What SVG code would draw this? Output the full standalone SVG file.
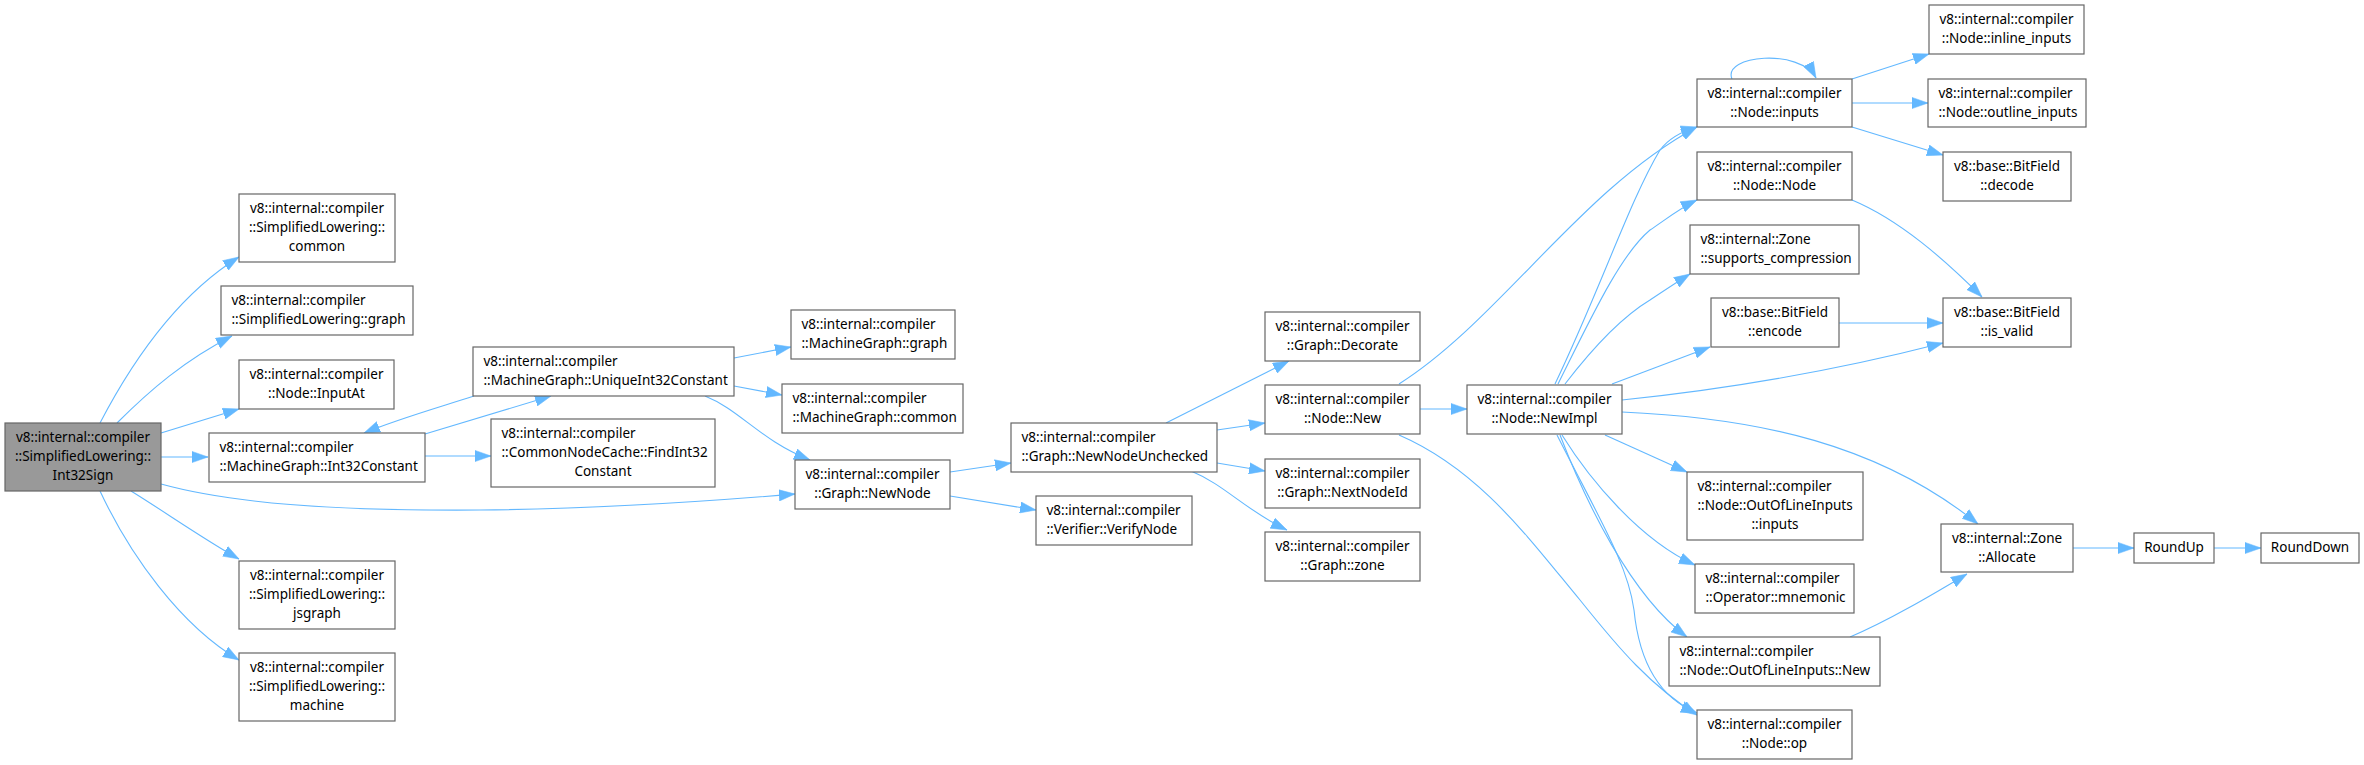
<svg xmlns="http://www.w3.org/2000/svg" width="2364" height="765" viewBox="0 0 2364 765">
<style>
.n rect{fill:#ffffff;stroke:#666666;stroke-width:1.2}
.n rect.hl{fill:#999999}
.n text{font-family:"Noto Sans","Open Sans","DejaVu Sans",sans-serif;font-size:13.5px;fill:#000000}
.c{text-anchor:middle}
.l{text-anchor:start}
#edges path{fill:none;stroke:#63b8ff;stroke-width:1.1;marker-end:url(#ah)}
</style>
<defs>
<marker id="ah" markerUnits="userSpaceOnUse" markerWidth="16" markerHeight="12" viewBox="0 0 15 10.5" refX="15" refY="5.25" orient="auto">
<path d="M0,0 L15,5.25 L0,10.5 z" fill="#63b8ff" stroke="#63b8ff" stroke-width="0.5"/>
</marker>
</defs>
<rect width="2364" height="765" fill="#ffffff"/>
<g id="edges">
<path d="M100,423 C125,375 170,300 239,257"/>
<path d="M117,423 C150,390 185,360 232,336"/>
<path d="M161,433 L239,409"/>
<path d="M161,457 L208,457"/>
<path d="M161,484 C230,503 330,511 480,510 C600,509 700,502 795,494"/>
<path d="M131,491 C165,512 205,540 239,559"/>
<path d="M100,491 C130,555 180,625 239,660"/>
<path d="M425,434 L551,396"/>
<path d="M474,396 C430,410 395,420 364,433"/>
<path d="M425,456 L491,456"/>
<path d="M734,358 L791,347"/>
<path d="M734,386 L782,395"/>
<path d="M705,396 C740,410 760,440 810,460"/>
<path d="M950,472 L1011,463"/>
<path d="M950,496 L1036,510"/>
<path d="M1166,423 L1289,361"/>
<path d="M1217,430 L1265,423"/>
<path d="M1217,463 L1265,471"/>
<path d="M1191,471 C1225,485 1245,510 1287,530"/>
<path d="M1399,384 C1500,320 1580,190 1697,127"/>
<path d="M1419,409 L1467,409"/>
<path d="M1399,435 C1480,470 1530,540 1580,600 C1620,650 1650,685 1697,715"/>
<path d="M1555,384 C1600,290 1630,200 1660,150 C1670,137 1683,131 1697,127"/>
<path d="M1558,384 C1590,320 1620,255 1650,230 C1665,220 1680,208 1697,200"/>
<path d="M1565,384 C1595,345 1625,315 1650,300 C1665,290 1677,282 1690,274"/>
<path d="M1612,384 L1710,347"/>
<path d="M1622,400 C1720,390 1830,372 1943,343"/>
<path d="M1622,412 C1760,418 1880,445 1978,524"/>
<path d="M1605,435 L1687,472"/>
<path d="M1562,435 C1590,480 1640,540 1695,565"/>
<path d="M1560,435 C1585,500 1630,595 1687,637"/>
<path d="M1557,435 C1600,520 1628,565 1634,610 C1640,670 1665,700 1697,713"/>
<path d="M1732,79 C1722,55 1800,48 1816,78"/>
<path d="M1852,79 L1929,54"/>
<path d="M1852,103 L1928,103"/>
<path d="M1852,127 L1943,155"/>
<path d="M1852,200 C1900,220 1945,260 1982,297"/>
<path d="M1839,323 L1943,323"/>
<path d="M1850,637 C1890,620 1935,593 1967,574"/>
<path d="M2073,548 L2134,548"/>
<path d="M2214,548 L2261,548"/>
</g>
<g id="n_int32sign" class="n"><rect class="hl" x="5" y="423" width="156" height="68"/><text class="c" x="83" y="441.5">v8::internal::compiler</text><text class="c" x="83" y="460.5">::SimplifiedLowering::</text><text class="c" x="83" y="479.5">Int32Sign</text></g>
<g id="n_common" class="n"><rect x="239" y="194" width="156" height="68"/><text class="c" x="317" y="212.5">v8::internal::compiler</text><text class="c" x="317" y="231.5">::SimplifiedLowering::</text><text class="c" x="317" y="250.5">common</text></g>
<g id="n_slgraph" class="n"><rect x="221" y="286" width="192" height="49"/><text class="l" x="231.5" y="304.5">v8::internal::compiler</text><text class="l" x="231.5" y="323.5">::SimplifiedLowering::graph</text></g>
<g id="n_inputat" class="n"><rect x="239" y="360" width="155" height="49"/><text class="c" x="316.5" y="378.5">v8::internal::compiler</text><text class="c" x="316.5" y="397.5">::Node::InputAt</text></g>
<g id="n_int32const" class="n"><rect x="209" y="433" width="216" height="49"/><text class="l" x="219.5" y="451.5">v8::internal::compiler</text><text class="l" x="219.5" y="470.5">::MachineGraph::Int32Constant</text></g>
<g id="n_jsgraph" class="n"><rect x="239" y="561" width="156" height="68"/><text class="c" x="317" y="579.5">v8::internal::compiler</text><text class="c" x="317" y="598.5">::SimplifiedLowering::</text><text class="c" x="317" y="617.5">jsgraph</text></g>
<g id="n_machine" class="n"><rect x="239" y="653" width="156" height="68"/><text class="c" x="317" y="671.5">v8::internal::compiler</text><text class="c" x="317" y="690.5">::SimplifiedLowering::</text><text class="c" x="317" y="709.5">machine</text></g>
<g id="n_unique" class="n"><rect x="473" y="347" width="261" height="49"/><text class="l" x="483.5" y="365.5">v8::internal::compiler</text><text class="l" x="483.5" y="384.5">::MachineGraph::UniqueInt32Constant</text></g>
<g id="n_findint32" class="n"><rect x="491" y="419" width="224" height="68"/><text class="l" x="501.5" y="437.5">v8::internal::compiler</text><text class="l" x="501.5" y="456.5">::CommonNodeCache::FindInt32</text><text class="c" x="603" y="475.5">Constant</text></g>
<g id="n_mggraph" class="n"><rect x="791" y="310" width="164" height="49"/><text class="l" x="801.5" y="328.5">v8::internal::compiler</text><text class="l" x="801.5" y="347.5">::MachineGraph::graph</text></g>
<g id="n_mgcommon" class="n"><rect x="782" y="384" width="181" height="49"/><text class="l" x="792.5" y="402.5">v8::internal::compiler</text><text class="l" x="792.5" y="421.5">::MachineGraph::common</text></g>
<g id="n_newnode" class="n"><rect x="795" y="460" width="155" height="49"/><text class="c" x="872.5" y="478.5">v8::internal::compiler</text><text class="c" x="872.5" y="497.5">::Graph::NewNode</text></g>
<g id="n_newnodeunchecked" class="n"><rect x="1011" y="423" width="206" height="49"/><text class="l" x="1021.5" y="441.5">v8::internal::compiler</text><text class="l" x="1021.5" y="460.5">::Graph::NewNodeUnchecked</text></g>
<g id="n_verifynode" class="n"><rect x="1036" y="496" width="156" height="49"/><text class="l" x="1046.5" y="514.5">v8::internal::compiler</text><text class="l" x="1046.5" y="533.5">::Verifier::VerifyNode</text></g>
<g id="n_decorate" class="n"><rect x="1265" y="312" width="155" height="49"/><text class="c" x="1342.5" y="330.5">v8::internal::compiler</text><text class="c" x="1342.5" y="349.5">::Graph::Decorate</text></g>
<g id="n_nodenew" class="n"><rect x="1265" y="385" width="155" height="49"/><text class="c" x="1342.5" y="403.5">v8::internal::compiler</text><text class="c" x="1342.5" y="422.5">::Node::New</text></g>
<g id="n_nextnodeid" class="n"><rect x="1265" y="459" width="155" height="49"/><text class="c" x="1342.5" y="477.5">v8::internal::compiler</text><text class="c" x="1342.5" y="496.5">::Graph::NextNodeId</text></g>
<g id="n_graphzone" class="n"><rect x="1265" y="532" width="155" height="49"/><text class="c" x="1342.5" y="550.5">v8::internal::compiler</text><text class="c" x="1342.5" y="569.5">::Graph::zone</text></g>
<g id="n_newimpl" class="n"><rect x="1467" y="385" width="155" height="49"/><text class="c" x="1544.5" y="403.5">v8::internal::compiler</text><text class="c" x="1544.5" y="422.5">::Node::NewImpl</text></g>
<g id="n_inputs" class="n"><rect x="1697" y="79" width="155" height="48"/><text class="c" x="1774.5" y="97.5">v8::internal::compiler</text><text class="c" x="1774.5" y="116.5">::Node::inputs</text></g>
<g id="n_nodenode" class="n"><rect x="1697" y="152" width="155" height="48"/><text class="c" x="1774.5" y="170.5">v8::internal::compiler</text><text class="c" x="1774.5" y="189.5">::Node::Node</text></g>
<g id="n_supports" class="n"><rect x="1690" y="225" width="169" height="49"/><text class="l" x="1700.5" y="243.5">v8::internal::Zone</text><text class="l" x="1700.5" y="262.5">::supports_compression</text></g>
<g id="n_encode" class="n"><rect x="1711" y="298" width="128" height="49"/><text class="c" x="1775" y="316.5">v8::base::BitField</text><text class="c" x="1775" y="335.5">::encode</text></g>
<g id="n_oolinputs" class="n"><rect x="1687" y="472" width="176" height="68"/><text class="l" x="1697.5" y="490.5">v8::internal::compiler</text><text class="l" x="1697.5" y="509.5">::Node::OutOfLineInputs</text><text class="c" x="1775" y="528.5">::inputs</text></g>
<g id="n_mnemonic" class="n"><rect x="1695" y="564" width="159" height="49"/><text class="l" x="1705.5" y="582.5">v8::internal::compiler</text><text class="l" x="1705.5" y="601.5">::Operator::mnemonic</text></g>
<g id="n_oolnew" class="n"><rect x="1669" y="637" width="211" height="49"/><text class="l" x="1679.5" y="655.5">v8::internal::compiler</text><text class="l" x="1679.5" y="674.5">::Node::OutOfLineInputs::New</text></g>
<g id="n_op" class="n"><rect x="1697" y="710" width="155" height="49"/><text class="c" x="1774.5" y="728.5">v8::internal::compiler</text><text class="c" x="1774.5" y="747.5">::Node::op</text></g>
<g id="n_inline" class="n"><rect x="1929" y="5" width="155" height="49"/><text class="c" x="2006.5" y="23.5">v8::internal::compiler</text><text class="c" x="2006.5" y="42.5">::Node::inline_inputs</text></g>
<g id="n_outline" class="n"><rect x="1928" y="79" width="158" height="48"/><text class="l" x="1938.5" y="97.5">v8::internal::compiler</text><text class="l" x="1938.5" y="116.5">::Node::outline_inputs</text></g>
<g id="n_decode" class="n"><rect x="1943" y="152" width="128" height="49"/><text class="c" x="2007" y="170.5">v8::base::BitField</text><text class="c" x="2007" y="189.5">::decode</text></g>
<g id="n_isvalid" class="n"><rect x="1943" y="298" width="128" height="49"/><text class="c" x="2007" y="316.5">v8::base::BitField</text><text class="c" x="2007" y="335.5">::is_valid</text></g>
<g id="n_allocate" class="n"><rect x="1941" y="524" width="132" height="48"/><text class="c" x="2007" y="542.5">v8::internal::Zone</text><text class="c" x="2007" y="561.5">::Allocate</text></g>
<g id="n_roundup" class="n"><rect x="2134" y="533" width="80" height="30"/><text class="c" x="2174" y="551.5">RoundUp</text></g>
<g id="n_rounddown" class="n"><rect x="2261" y="533" width="98" height="30"/><text class="c" x="2310" y="551.5">RoundDown</text></g>
</svg>
